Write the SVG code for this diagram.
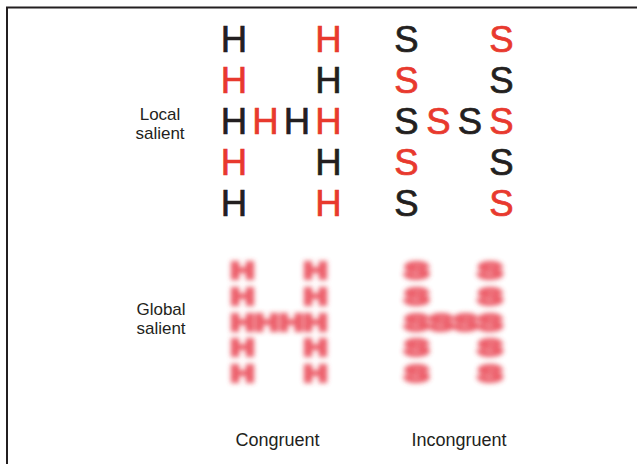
<svg xmlns="http://www.w3.org/2000/svg" width="637" height="464" viewBox="0 0 637 464">
<style>
.lbl{font-family:"Liberation Sans",Arial,sans-serif;font-size:17px;fill:#231f20;text-anchor:middle}
.cap{font-family:"Liberation Sans",Arial,sans-serif;font-size:18px;fill:#231f20;text-anchor:middle}
.let{font-family:"Liberation Sans",Arial,sans-serif;font-size:36.5px;text-anchor:middle;stroke-width:0.7}
.sm{font-family:"Liberation Sans",Arial,sans-serif;font-size:22.5px;text-anchor:middle;fill:#e83a48;stroke:#e83a48;stroke-width:3.8;stroke-linejoin:miter}
.k{fill:#231f20;stroke:#231f20}
.r{fill:#e8392e;stroke:#e8392e}
</style>
<defs>
<filter id="blur" x="-20%" y="-20%" width="140%" height="140%"><feGaussianBlur stdDeviation="2.4"/></filter>
</defs>
<rect width="637" height="464" fill="#ffffff"/>
<path d="M7,464 V7.5 H637" fill="none" stroke="#231f20" stroke-width="2"/>

<g id="label-local">
<text class="lbl" x="160" y="119.5">Local</text>
<text class="lbl" x="160" y="138.5">salient</text>
</g>
<g id="label-global">
<text class="lbl" x="161" y="315">Global</text>
<text class="lbl" x="161" y="334">salient</text>
</g>

<g id="local-congruent" class="let">
<text class="k" x="234" y="52">H</text><text class="r" x="328.5" y="52">H</text>
<text class="r" x="234" y="93">H</text><text class="k" x="328.5" y="93">H</text>
<text class="k" x="234" y="134">H</text><text class="r" x="265.5" y="134">H</text><text class="k" x="297" y="134">H</text><text class="r" x="328.5" y="134">H</text>
<text class="r" x="234" y="175">H</text><text class="k" x="328.5" y="175">H</text>
<text class="k" x="234" y="216">H</text><text class="r" x="328.5" y="216">H</text>
</g>

<g id="local-incongruent" class="let">
<text class="k" x="406.5" y="52">S</text><text class="r" x="501.5" y="52">S</text>
<text class="r" x="406.5" y="93">S</text><text class="k" x="501.5" y="93">S</text>
<text class="k" x="406.5" y="134">S</text><text class="r" x="438.5" y="134">S</text><text class="k" x="470" y="134">S</text><text class="r" x="501.5" y="134">S</text>
<text class="r" x="406.5" y="175">S</text><text class="k" x="501.5" y="175">S</text>
<text class="k" x="406.5" y="216">S</text><text class="r" x="501.5" y="216">S</text>
</g>

<g id="global-congruent" class="sm" filter="url(#blur)" opacity="0.82">
<text x="242.5" y="278" textLength="23" lengthAdjust="spacingAndGlyphs">H</text>
<text x="242.5" y="303.8" textLength="23" lengthAdjust="spacingAndGlyphs">H</text>
<text x="242.5" y="329.6" textLength="23" lengthAdjust="spacingAndGlyphs">H</text>
<text x="242.5" y="355.4" textLength="23" lengthAdjust="spacingAndGlyphs">H</text>
<text x="242.5" y="381.2" textLength="23" lengthAdjust="spacingAndGlyphs">H</text>
<text x="266.8" y="329.6" textLength="23" lengthAdjust="spacingAndGlyphs">H</text>
<text x="291.2" y="329.6" textLength="23" lengthAdjust="spacingAndGlyphs">H</text>
<text x="315.5" y="278" textLength="23" lengthAdjust="spacingAndGlyphs">H</text>
<text x="315.5" y="303.8" textLength="23" lengthAdjust="spacingAndGlyphs">H</text>
<text x="315.5" y="329.6" textLength="23" lengthAdjust="spacingAndGlyphs">H</text>
<text x="315.5" y="355.4" textLength="23" lengthAdjust="spacingAndGlyphs">H</text>
<text x="315.5" y="381.2" textLength="23" lengthAdjust="spacingAndGlyphs">H</text>
</g>

<g id="global-incongruent" class="sm" filter="url(#blur)" opacity="0.82">
<text x="416.5" y="278" textLength="24" lengthAdjust="spacingAndGlyphs">S</text>
<text x="416.5" y="303.8" textLength="24" lengthAdjust="spacingAndGlyphs">S</text>
<text x="416.5" y="329.6" textLength="24" lengthAdjust="spacingAndGlyphs">S</text>
<text x="416.5" y="355.4" textLength="24" lengthAdjust="spacingAndGlyphs">S</text>
<text x="416.5" y="381.2" textLength="24" lengthAdjust="spacingAndGlyphs">S</text>
<text x="441" y="329.6" textLength="24" lengthAdjust="spacingAndGlyphs">S</text>
<text x="465.5" y="329.6" textLength="24" lengthAdjust="spacingAndGlyphs">S</text>
<text x="490" y="278" textLength="24" lengthAdjust="spacingAndGlyphs">S</text>
<text x="490" y="303.8" textLength="24" lengthAdjust="spacingAndGlyphs">S</text>
<text x="490" y="329.6" textLength="24" lengthAdjust="spacingAndGlyphs">S</text>
<text x="490" y="355.4" textLength="24" lengthAdjust="spacingAndGlyphs">S</text>
<text x="490" y="381.2" textLength="24" lengthAdjust="spacingAndGlyphs">S</text>
</g>

<g id="caption-congruent"><text class="cap" x="277.5" y="446">Congruent</text></g>
<g id="caption-incongruent"><text class="cap" x="459" y="446">Incongruent</text></g>
</svg>
